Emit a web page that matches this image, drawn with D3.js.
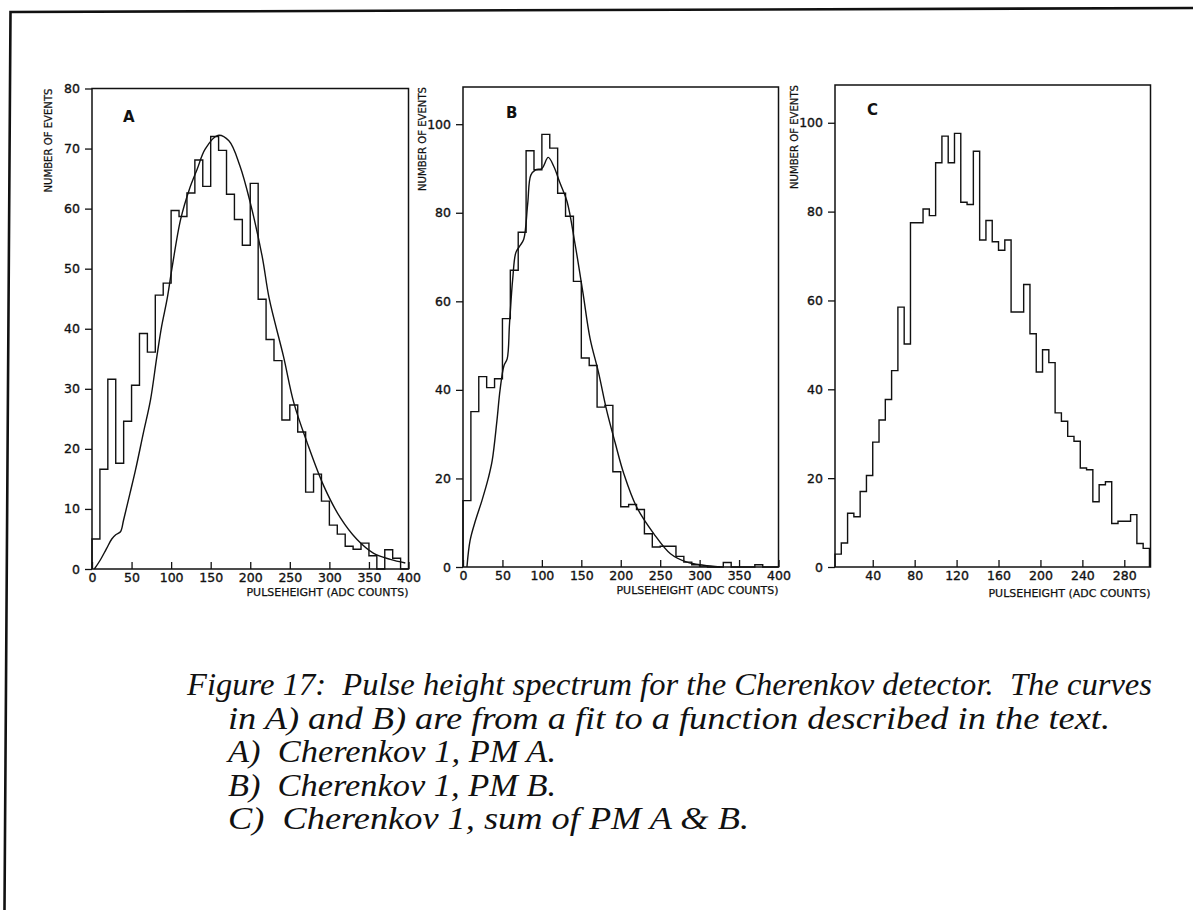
<!DOCTYPE html>
<html>
<head>
<meta charset="utf-8">
<script src="https://cdn.jsdelivr.net/npm/d3@7"></script>
<style>
  body { margin: 0; background: #fff; }
  svg  { display: block; }
</style>
</head>
<body>
<svg id="chart" width="1193" height="910"></svg>
<script>
/*****************************************************************
 *  Figure 17 – Cherenkov pulse height spectra (3 panels)
 *  --------------------------------------------------------------
 *  histogram counts per bin + fitted curve (A, B only)
 *****************************************************************/

/* ---- data ------------------------------------------------------- */
// A: 40 bins of 10 ADC counts starting at 0
const countsA = [5, 16.6, 31.6, 17.6, 24.6, 30.6, 39.2, 36.1, 45.6, 47.6,
                 59.7, 58.7, 62.6, 68.1, 63.7, 72, 69.7, 62.4, 58.2, 53.9,
                 64.2, 44.9, 38.2, 34.7, 24.8, 27.3, 22.8, 12.8, 15.8, 11.3,
                 7.3, 5.8, 3.8, 3.3, 4.3, 2.2, 0, 3.2, 1.8, 0];

// B: 40 bins of 10 ADC counts starting at 0
const countsB = [15, 35.1, 43, 40.5, 42.5, 56.1, 67, 75.6, 94, 89.7,
                 97.7, 94.6, 84.4, 79.2, 64.5, 47.2, 45.5, 36.1, 36.5, 21.5,
                 13.6, 14.1, 13, 7.5, 4.5, 4.7, 4.7, 2.4, 1.1, 0.5,
                 0.2, 0, 0, 1, 0, 0, 0, 0.5, 0, 0];

// C: 50 bins of 6 ADC counts starting at 4
const countsC = [2.9, 5.4, 12.1, 11.3, 17, 20.6, 28.1, 33.1, 37.7, 44.2,
                 58.5, 50.2, 77.5, 77.5, 80.6, 79.1, 91, 97, 91, 97.6,
                 82.1, 81.6, 93.6, 73.6, 78, 73.2, 71.3, 73.6, 57.4, 57.4,
                 63.6, 52.5, 43.9, 48.9, 46, 34.7, 32.8, 29.4, 28.3, 22.3,
                 21.9, 14.7, 18.5, 19.2, 9.8, 10.3, 10.3, 11.8, 5.3, 4.2];

// fitted curves, [pulseheight, events]
const fitA = [[3, 0], [10.5, 1.5], [18, 3.3], [25, 5], [30, 5.7], [36, 6.2],
              [40, 8.2], [48, 12.6], [55, 16.5], [65, 22.7], [74, 28.2],
              [82, 35.4], [88, 40.4], [95, 45], [101, 50], [112, 58.2],
              [123, 63.2], [133, 66.6], [143, 69.9], [159, 72.2], [173, 71.3],
              [187, 67.1], [200, 61], [215, 52.1], [224, 45], [242, 35.4],
              [255, 27.7], [272, 21], [293, 13.8], [314, 8.5], [335, 4.9],
              [356, 2.6], [377, 1.6], [396, 1.0]];

const fitB = [[5, 0], [9, 6], [16, 10.6], [24, 15], [32, 20], [37, 24],
              [43, 33], [47, 40], [52, 45.5], [56, 47], [59, 55], [63, 65],
              [67, 71], [72, 72.5], [77, 74], [82, 82], [86, 88.5], [92, 89.7],
              [100, 90], [108, 92.5], [115, 90.5], [123, 86.7], [132, 82.5],
              [142, 73], [152, 62], [161, 51.7], [172, 43.8], [182, 35.5],
              [193, 28], [204, 21], [220, 13.6], [242, 7.5], [263, 3],
              [284, 1.1], [305, 0.4], [326, 0]];

const xTicksAB = [0, 50, 100, 150, 200, 250, 300, 350, 400];
const xTicksC  = [40, 80, 120, 160, 200, 240, 280];
const yTicksA  = [0, 10, 20, 30, 40, 50, 60, 70, 80];
const yTicksBC = [0, 20, 40, 60, 80, 100];

const xTitle = "PULSEHEIGHT (ADC COUNTS)";
const yTitle = "NUMBER OF EVENTS";

const captionLines = [
  "Figure 17:  Pulse height spectrum for the Cherenkov detector.  The curves",
  "in A) and B) are from a fit to a function described in the text.",
  "A)  Cherenkov 1, PM A.",
  "B)  Cherenkov 1, PM B.",
  "C)  Cherenkov 1, sum of PM A & B."
];

/* ---- panel layout ---------------------------------------------- */
const panels = [
  { letter: "A", counts: countsA, binStart: 0, binWidth: 10, fit: fitA,
    xDomain: [0, 400], yDomain: [0, 80], xTicks: xTicksAB, yTicks: yTicksA,
    left: 92, right: 408.5, top: 88.5, bottom: 569,
    letterX: 123, letterY: 122, yTitleX: 52, xTitleY: 596 },
  { letter: "B", counts: countsB, binStart: 0, binWidth: 10, fit: fitB,
    xDomain: [0, 400], yDomain: [0, 108.4], xTicks: xTicksAB, yTicks: yTicksBC,
    left: 463, right: 778.5, top: 87, bottom: 567,
    letterX: 506, letterY: 118, yTitleX: 426, xTitleY: 594 },
  { letter: "C", counts: countsC, binStart: 4, binWidth: 6, fit: null,
    xDomain: [4, 305], yDomain: [0, 108.5], xTicks: xTicksC, yTicks: yTicksBC,
    left: 835, right: 1150.5, top: 85, bottom: 567,
    letterX: 867, letterY: 115, yTitleX: 798, xTitleY: 597 }
];

const svg = d3.select("#chart");
svg.append("rect").attr("width", 1193).attr("height", 910).attr("fill", "#fff");

// page border of the scanned sheet (top + left edge)
svg.append("path")
  .attr("d", "M4.5,910 L10.5,12 L1193,8")
  .attr("fill", "none")
  .attr("stroke", "#111")
  .attr("stroke-width", 2.6);

const sans = '"DejaVu Sans", Verdana, sans-serif';

// tick styling shared by both axes
function styleAxis(a) {
  a.select(".domain").remove();
  a.attr("font-family", sans).attr("font-size", 12.5);
  a.selectAll(".tick line").attr("stroke", "#111").attr("stroke-width", 1.3);
  a.selectAll(".tick text")
    .attr("fill", "#111")
    .attr("stroke", "#111")
    .attr("stroke-width", 0.35);
}

panels.forEach(p => {
  const g = svg.append("g");

  const x = d3.scaleLinear(p.xDomain, [p.left, p.right]);
  const y = d3.scaleLinear(p.yDomain, [p.bottom, p.top]);

  /* ---- frame ---------------------------------------------------- */
  g.append("rect")
    .attr("x", p.left).attr("y", p.top)
    .attr("width", p.right - p.left).attr("height", p.bottom - p.top)
    .attr("fill", "none")
    .attr("stroke", "#111")
    .attr("stroke-width", 1.5);

  /* ---- axes ----------------------------------------------------- */
  g.append("g")
    .attr("transform", `translate(${p.left},0)`)
    .call(d3.axisLeft(y).tickValues(p.yTicks).tickSizeInner(7).tickSizeOuter(0).tickPadding(5))
    .call(styleAxis);

  g.append("g")
    .attr("transform", `translate(0,${p.bottom})`)
    .call(d3.axisBottom(x).tickValues(p.xTicks).tickSizeInner(-7).tickSizeOuter(0).tickPadding(4))
    .call(styleAxis);

  /* ---- histogram (step line) ----------------------------------- */
  const pts = [[p.binStart, 0]];
  p.counts.forEach((c, i) => pts.push([p.binStart + i * p.binWidth, c]));
  const xEnd = p.binStart + p.counts.length * p.binWidth;
  pts.push([xEnd, p.counts[p.counts.length - 1]], [xEnd, 0]);

  g.append("path")
    .datum(pts)
    .attr("fill", "none")
    .attr("stroke", "#111")
    .attr("stroke-width", 1.4)
    .attr("d", d3.line().x(d => x(d[0])).y(d => y(d[1])).curve(d3.curveStepAfter));

  /* ---- fit curve ------------------------------------------------ */
  if (p.fit) {
    g.append("path")
      .datum(p.fit)
      .attr("fill", "none")
      .attr("stroke", "#111")
      .attr("stroke-width", 1.4)
      .attr("d", d3.line().x(d => x(d[0])).y(d => y(d[1])).curve(d3.curveCatmullRom.alpha(0.5)));
  }

  /* ---- labels --------------------------------------------------- */
  g.append("text")
    .attr("x", p.letterX).attr("y", p.letterY)
    .attr("font-family", sans).attr("font-weight", "bold").attr("font-size", 15)
    .attr("fill", "#111")
    .text(p.letter);

  g.append("text")
    .attr("x", p.right).attr("y", p.xTitleY)
    .attr("text-anchor", "end")
    .attr("font-family", sans).attr("font-size", 11).attr("fill", "#111")
    .attr("stroke", "#111").attr("stroke-width", 0.25)
    .attr("textLength", 162).attr("lengthAdjust", "spacingAndGlyphs")
    .text(xTitle);

  g.append("text")
    .attr("transform", `translate(${p.yTitleX},${p.top}) rotate(-90)`)
    .attr("text-anchor", "end")
    .attr("font-family", sans).attr("font-size", 11).attr("fill", "#111")
    .attr("stroke", "#111").attr("stroke-width", 0.25)
    .attr("textLength", 104).attr("lengthAdjust", "spacingAndGlyphs")
    .text(yTitle);
});

/* ---- caption ---------------------------------------------------- */
const capX   = [187, 228, 228, 228, 228];
const capLen = [965, 882, 328, 328, 521];

svg.append("g")
  .selectAll("text")
  .data(captionLines)
  .enter().append("text")
    .attr("x", (d, i) => capX[i])
    .attr("y", (d, i) => 695 + i * 33.5)
    .attr("font-family", '"Liberation Serif", "Times New Roman", serif')
    .attr("font-style", "italic")
    .attr("font-size", 31)
    .attr("fill", "#111")
    .attr("textLength", (d, i) => capLen[i])
    .attr("lengthAdjust", "spacingAndGlyphs")
    .style("white-space", "pre")
    .text(d => d);
</script>
</body>
</html>
